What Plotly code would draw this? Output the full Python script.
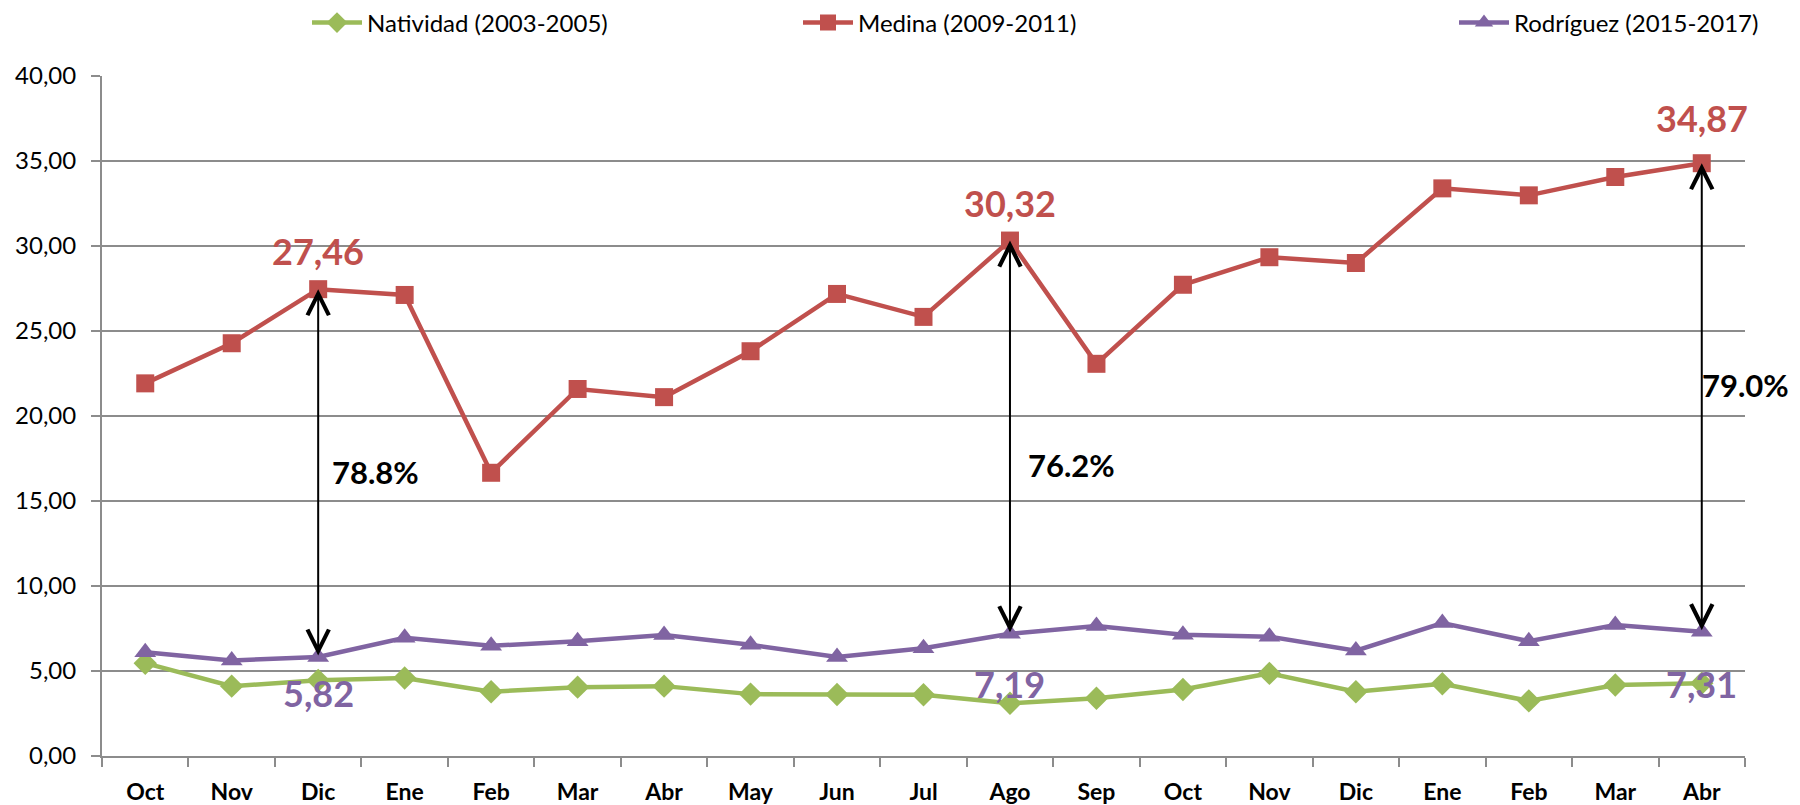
import plotly.graph_objects as go

months = ["Oct", "Nov", "Dic", "Ene", "Feb", "Mar", "Abr", "May", "Jun", "Jul",
          "Ago", "Sep", "Oct", "Nov", "Dic", "Ene", "Feb", "Mar", "Abr"]
natividad = [5.46, 4.11, 4.45, 4.59, 3.78, 4.05, 4.11, 3.64, 3.62, 3.60,
             3.10, 3.40, 3.91, 4.86, 3.78, 4.25, 3.24, 4.18, 4.28]
medina = [21.92, 24.28, 27.46, 27.12, 16.66, 21.59, 21.11, 23.81, 27.18, 25.83,
          30.32, 23.07, 27.72, 29.34, 29.00, 33.39, 32.98, 34.06, 34.87]
rodriguez = [6.10, 5.62, 5.82, 6.95, 6.48, 6.75, 7.12, 6.54, 5.83, 6.34,
             7.19, 7.64, 7.13, 7.02, 6.20, 7.82, 6.75, 7.71, 7.31]
y_ticks = [0, 5, 10, 15, 20, 25, 30, 35, 40]
y_ticklabels = ["0,00", "5,00", "10,00", "15,00", "20,00", "25,00", "30,00", "35,00", "40,00"]
highlight_idx = [2, 10, 18]
gap_labels = ["78.8%", "76.2%", "79.0%"]

x_idx = list(range(len(months)))

GREEN = "#9BBB59"
RED = "#C0504D"
PURPLE = "#8064A2"
GRID = "#8C8C8C"
FONT = "Lato"

# the page body adds an 8px offset; the figure is sized to fit inside the window
W, H = 1792, 797

fig = go.Figure()
fig.add_trace(go.Scatter(
    x=x_idx, y=natividad, mode="lines+markers", name="Natividad (2003-2005)",
    line=dict(color=GREEN, width=4.5), marker=dict(symbol="diamond", size=18, color=GREEN),
    legend="legend", cliponaxis=False))
fig.add_trace(go.Scatter(
    x=x_idx, y=medina, mode="lines+markers", name="Medina (2009-2011)",
    line=dict(color=RED, width=4.5), marker=dict(symbol="square", size=18, color=RED),
    legend="legend2", cliponaxis=False))
fig.add_trace(go.Scatter(
    x=x_idx, y=rodriguez, mode="lines+markers", name="Rodríguez (2015-2017)",
    line=dict(color=PURPLE, width=4.5), marker=dict(symbol="triangle-up", size=19, color=PURPLE),
    legend="legend3", cliponaxis=False))

annotations = []
pct_pos = [16.72, 17.13, 21.85]
pct_shift = [12, 16, -2]
red_shift = [38, 38, 45]
purple_shift = [-36, -50, -52]
for k, i in enumerate(highlight_idx):
    annotations.append(dict(
        x=i, y=medina[i], ax=i, ay=rodriguez[i], xref="x", yref="y", axref="x", ayref="y",
        text="", showarrow=True, arrowhead=5, startarrowhead=5, arrowside="end+start",
        arrowwidth=2, arrowsize=2.1, startarrowsize=2.1, arrowcolor="black",
        standoff=0, startstandoff=0))
    annotations.append(dict(
        x=i, y=pct_pos[k], xref="x", yref="y", text=gap_labels[k], showarrow=False,
        xanchor="left", yanchor="middle", xshift=pct_shift[k],
        font=dict(family=FONT, size=31, color="black", weight="bold")))
    annotations.append(dict(
        x=i, y=medina[i], xref="x", yref="y", text=f"{medina[i]:.2f}".replace(".", ","),
        showarrow=False, xanchor="center", yanchor="middle", yshift=red_shift[k],
        font=dict(family=FONT, size=36, color=RED, weight="bold")))
    annotations.append(dict(
        x=i, y=rodriguez[i], xref="x", yref="y", text=f"{rodriguez[i]:.2f}".replace(".", ","),
        showarrow=False, xanchor="center", yanchor="middle", yshift=purple_shift[k],
        font=dict(family=FONT, size=36, color=PURPLE, weight="bold")))

legend_common = dict(orientation="h", xref="container", yref="container",
                     yanchor="middle", y=1 - 15 / H, xanchor="left",
                     font=dict(family=FONT, size=24, color="black"),
                     bgcolor="rgba(0,0,0,0)", itemwidth=50)

fig.update_layout(
    width=W, height=H,
    paper_bgcolor="white", plot_bgcolor="white",
    margin=dict(l=93.5, r=55, t=68, b=48.5, autoexpand=False),
    font=dict(family=FONT, color="black"),
    showlegend=True,
    legend=dict(**legend_common, x=299 / W),
    legend2=dict(**legend_common, x=790 / W),
    legend3=dict(**legend_common, x=1446 / W),
    annotations=annotations,
    xaxis=dict(
        range=[-0.5, 18.5], tickmode="array", tickvals=x_idx, ticktext=months,
        ticks="", showgrid=False, zeroline=False,
        showline=True, linecolor=GRID, linewidth=2,
        tickfont=dict(family=FONT, size=23, color="black", weight="bold"),
        ticklabelstandoff=14,
        minor=dict(tickmode="array", tickvals=[v - 0.5 for v in x_idx] + [18.5],
                   ticks="outside", ticklen=9, tickcolor=GRID, tickwidth=1.5, showgrid=False),
    ),
    yaxis=dict(
        range=[0, 40], tickmode="array", tickvals=y_ticks, ticktext=y_ticklabels,
        ticks="outside", ticklen=9, tickcolor=GRID, tickwidth=1.5,
        showgrid=True, gridcolor=GRID, gridwidth=1.5, zeroline=False,
        showline=True, linecolor=GRID, linewidth=2,
        tickfont=dict(family=FONT, size=24, color="black"),
        ticklabelstandoff=10,
    ),
)

fig.write_html("out.html")
